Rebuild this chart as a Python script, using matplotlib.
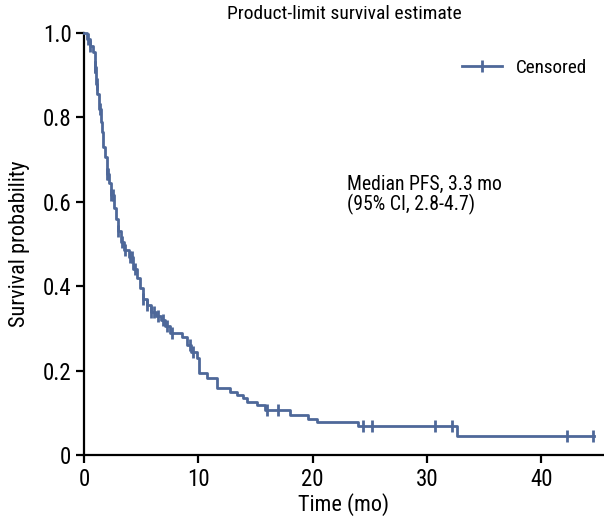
import numpy as np
import matplotlib
matplotlib.use('Agg')
import matplotlib.pyplot as plt
from matplotlib import rcParams

rcParams['font.family'] = ['Roboto Condensed', 'DejaVu Sans']
rcParams['xtick.direction'] = 'out'
rcParams['ytick.direction'] = 'out'

# step function: time (mo) -> survival after the drop
times = [0, 0.3, 0.5, 0.8, 0.95, 1.05, 1.15, 1.3, 1.45, 1.6, 1.7, 1.85, 2.0,
         2.15, 2.4, 2.6, 2.8, 3.0, 3.2, 3.5, 3.9, 4.3, 4.6, 4.9, 5.2, 5.5,
         5.9, 6.3, 6.7, 7.1, 7.5, 8.6, 9.0, 9.4, 9.9, 10.1, 10.8, 11.6, 12.8,
         13.4, 13.9, 14.3, 15.1, 15.8, 18.0, 19.6, 20.4, 24.0, 32.6]
surv = [1.0, 0.985, 0.97, 0.955, 0.92, 0.88, 0.855, 0.82, 0.79, 0.765, 0.73,
        0.705, 0.665, 0.645, 0.615, 0.585, 0.56, 0.53, 0.505, 0.485, 0.47,
        0.44, 0.42, 0.395, 0.37, 0.355, 0.34, 0.33, 0.32, 0.305, 0.29, 0.28,
        0.26, 0.245, 0.23, 0.195, 0.182, 0.159, 0.149, 0.142, 0.135, 0.126,
        0.118, 0.107, 0.095, 0.085, 0.078, 0.069, 0.046]
censored = [0.35, 0.5, 0.95, 1.0, 1.1, 1.4, 2.0, 2.1, 2.4, 2.5, 3.0, 3.3,
            3.6, 4.0, 4.2, 4.5, 5.2, 5.5, 5.9, 6.1, 6.5, 6.9, 7.3, 7.7, 9.3,
            9.5, 16.0, 17.0, 24.4, 25.2, 30.7, 32.2, 42.3, 44.5]
t_end = 44.6

color = '#4e6899'

fig = plt.figure(figsize=(6.04, 5.19), dpi=100, facecolor="white")
ax = fig.add_axes([0.139, 0.1233, 0.861, 0.8131])
ax.spines['right'].set_color('none')
ax.spines['top'].set_color('none')
ax.spines['left'].set_linewidth(1.6)
ax.spines['bottom'].set_linewidth(1.6)
ax.xaxis.set_ticks_position('bottom')
ax.yaxis.set_ticks_position('left')

st = np.array(times + [t_end])
sv = np.array(surv + [surv[-1]])
ax.step(st, sv, where='post', color=color, lw=2.0, clip_on=False, zorder=3)

ct = np.array(censored)
cv = np.array(surv)[np.searchsorted(times, ct, side='right') - 1]
ax.plot(ct, cv, ls='none', marker='|', ms=8, mew=2.0, color=color,
        clip_on=False, zorder=4)

# legend handle: line with a cross mark in the middle
h, = ax.plot([], [], color=color, lw=2.0, marker='|', ms=8, mew=2.0)
ax.legend([h], ['Censored'], loc='upper right', frameon=False, fontsize=13.8,
          numpoints=1, handlelength=2.1, handletextpad=0.7,
          bbox_to_anchor=(1.0, 0.98))

ax.text(23.0, 0.663, "Median PFS, 3.3 mo\n(95% CI, 2.8-4.7)", fontsize=14.2,
        va='top', ha='left', linespacing=1.0)

ax.set_xlim(0, 45.5)
ax.set_ylim(0, 1.0)
ax.set_xticks([0, 10, 20, 30, 40])
ax.set_yticks([0, 0.2, 0.4, 0.6, 0.8, 1.0])
ax.set_yticklabels(['0', '0.2', '0.4', '0.6', '0.8', '1.0'])
ax.tick_params(length=6, width=1.6, labelsize=16.5, pad=3)

ax.set_xlabel("Time (mo)", fontsize=16, labelpad=2)
ax.set_ylabel("Survival probability", fontsize=16, labelpad=9)
ax.set_title("Product-limit survival estimate", fontsize=14, pad=10)

fig.savefig("out.png", dpi=100, facecolor="white")
